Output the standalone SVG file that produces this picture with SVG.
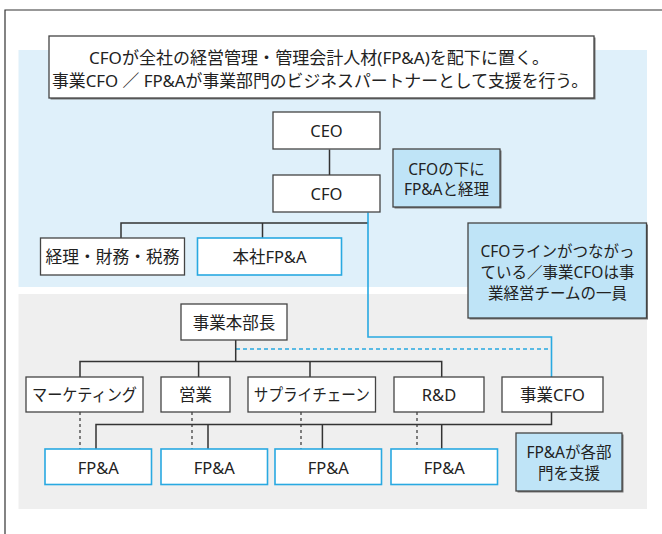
<svg xmlns="http://www.w3.org/2000/svg" width="662" height="534" viewBox="0 0 662 534">
<style>
text{font-family:"Noto Sans","Noto Sans CJK JP",sans-serif;fill:#222;text-anchor:middle;dominant-baseline:central}
.box{fill:#fff;stroke:#444;stroke-width:1.3}
.fpa{fill:#fff;stroke:#29a9e1;stroke-width:1.6}
.note{fill:#bfe4f7;stroke:#444;stroke-width:1.3}
.shadow{fill:#777}
.lbl{font-size:16.5px}
.nt{font-size:15.5px}
.top{font-size:17px}
.ln{fill:none;stroke:#333;stroke-width:1.5}
.dash{fill:none;stroke:#333;stroke-width:1.2;stroke-dasharray:3 3}
.bl{fill:none;stroke:#29a9e1;stroke-width:1.6}
.bdash{fill:none;stroke:#29a9e1;stroke-width:1.5;stroke-dasharray:4 3}
</style>
<rect width="662" height="534" fill="#fff"/>
<path d="M5 534V10H662" fill="none" stroke="#333" stroke-width="1.2"/>
<rect x="18.5" y="50" width="628.5" height="237" fill="#dff0fa"/>
<rect x="18.5" y="294" width="628.5" height="215" fill="#efefef"/>

<g id="connectors">
<path class="ln" d="M329.5 149.5V175"/>
<path class="ln" d="M121 238V223H368M262.5 223V238"/>
<path class="bl" d="M368 212.5V337H551.5V377"/>
<path class="bdash" d="M236 349H551.5"/>
<path class="ln" d="M235.7 340V361.5M80 377V361.5H441.7V377M198.6 361.5V377M310 361.5V377"/>
<path class="dash" d="M80 412V449M192 412V449M301 412V449M417 412V449"/>
<path class="ln" d="M551.5 412V424.5H96V449M208 424.5V449M322.4 424.5V449M441.7 424.5V449"/>
</g>

<g id="header">
<rect class="shadow" x="50.5" y="37.5" width="545" height="62"/>
<rect class="box" x="49" y="36" width="545" height="62"/>
<text class="top" x="319" y="57.5" textLength="460" lengthAdjust="spacingAndGlyphs">CFOが全社の経営管理・管理会計人材(FP&amp;A)を配下に置く。</text>
<text class="top" x="320" y="80.5" textLength="536" lengthAdjust="spacingAndGlyphs">事業CFO ／ FP&amp;Aが事業部門のビジネスパートナーとして支援を行う。</text>
</g>

<g id="ceo"><rect class="box" x="273" y="112" width="107" height="37"/><text class="lbl" x="326.5" y="130.5">CEO</text></g>
<g id="cfo"><rect class="box" x="273" y="175" width="107" height="37"/><text class="lbl" x="326.5" y="193.5">CFO</text></g>
<g id="note1"><rect class="shadow" x="394.5" y="150.5" width="107" height="58"/><rect class="note" x="393" y="149" width="107" height="58"/>
<text class="nt" x="446.5" y="168.5">CFOの下に</text><text class="nt" x="446.5" y="189">FP&amp;Aと経理</text></g>
<g id="keiri"><rect class="box" x="40.5" y="238" width="144" height="37"/><text class="lbl" x="112.5" y="256.5" textLength="134" lengthAdjust="spacingAndGlyphs">経理・財務・税務</text></g>
<g id="honsha-fpa"><rect class="fpa" x="197.5" y="238" width="144" height="37"/><text class="lbl" x="269.5" y="256.5">本社FP&amp;A</text></g>
<g id="note2"><rect class="shadow" x="469.5" y="224.5" width="178.5" height="95"/><rect class="note" x="468" y="223" width="178.5" height="95"/>
<text class="nt" x="557.5" y="250.5">CFOラインがつながっ</text><text class="nt" x="557.5" y="271.5">ている／事業CFOは事</text><text class="nt" x="557.5" y="292.5">業経営チームの一員</text></g>

<g id="honbucho"><rect class="box" x="181" y="304" width="106" height="36"/><text class="lbl" x="234" y="322">事業本部長</text></g>
<g id="marketing"><rect class="box" x="26" y="377" width="117" height="35"/><text class="lbl" x="84.5" y="394.5" textLength="105" lengthAdjust="spacingAndGlyphs">マーケティング</text></g>
<g id="eigyo"><rect class="box" x="161" y="377" width="69" height="35"/><text class="lbl" x="195.5" y="394.5">営業</text></g>
<g id="supply"><rect class="box" x="248" y="377" width="127.5" height="35"/><text class="lbl" x="311.8" y="394.5" textLength="116" lengthAdjust="spacingAndGlyphs">サプライチェーン</text></g>
<g id="rd"><rect class="box" x="394" y="377" width="90" height="35"/><text class="lbl" x="439" y="394.5">R&amp;D</text></g>
<g id="jigyo-cfo"><rect class="box" x="502" y="377" width="101" height="35"/><text class="lbl" x="552.5" y="394.5">事業CFO</text></g>

<g id="fpa1"><rect class="fpa" x="45" y="449" width="106.5" height="35.5"/><text class="lbl" x="98.3" y="467">FP&amp;A</text></g>
<g id="fpa2"><rect class="fpa" x="161" y="449" width="106.5" height="35.5"/><text class="lbl" x="214.3" y="467">FP&amp;A</text></g>
<g id="fpa3"><rect class="fpa" x="275" y="449" width="106.5" height="35.5"/><text class="lbl" x="328.3" y="467">FP&amp;A</text></g>
<g id="fpa4"><rect class="fpa" x="391" y="449" width="106.5" height="35.5"/><text class="lbl" x="444.3" y="467">FP&amp;A</text></g>
<g id="note3"><rect class="shadow" x="517.5" y="434.5" width="106" height="58"/><rect class="note" x="516" y="433" width="106" height="58"/>
<text class="nt" x="569" y="452">FP&amp;Aが各部</text><text class="nt" x="569" y="473">門を支援</text></g>
</svg>
